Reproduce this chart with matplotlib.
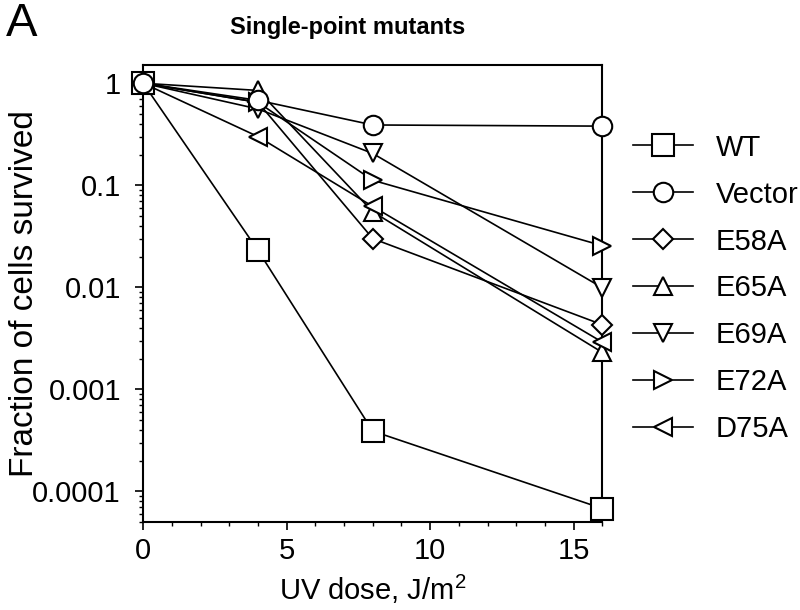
import numpy as np
import matplotlib
matplotlib.use('Agg')
import matplotlib.pyplot as plt
from matplotlib.ticker import FixedLocator, MultipleLocator, LogLocator, NullFormatter

plt.rcParams['font.family'] = ['Liberation Sans', 'DejaVu Sans']
plt.rcParams['mathtext.fontset'] = 'custom'
plt.rcParams['mathtext.rm'] = 'Liberation Sans'

dose = [0, 4, 8, 16]

wt = [1.0, 0.023, 0.00039, 0.000068]
vector = [1.0, 0.68, 0.39, 0.38]
e58a = [1.0, 0.65, 0.030, 0.0043]
e65a = [1.0, 0.85, 0.055, 0.0023]
e69a = [1.0, 0.56, 0.205, 0.0099]
e72a = [1.0, 0.65, 0.112, 0.0256]
d75a = [1.0, 0.30, 0.062, 0.0029]

names = ['WT', 'Vector', 'E58A', 'E65A', 'E69A', 'E72A', 'D75A']
series = [wt, vector, e58a, e65a, e69a, e72a, d75a]
markers = ['s', 'o', 'D', '^', 'v', '>', '<']
msizes = [16, 14, 10, 13, 13, 13, 13]
zorders = [4, 6, 3, 3, 3, 3, 3]

y_ticks = [1, 0.1, 0.01, 0.001, 0.0001]
y_tick_labels = ['1', '0.1', '0.01', '0.001', '0.0001']


def main():
    fig = plt.figure(figsize=(8, 6.1), dpi=100)
    ax = fig.add_axes([0.179, 0.144, 0.574, 0.749])

    for name, ys, m, ms, z in zip(names, series, markers, msizes, zorders):
        ax.plot(dose, ys, '-', color='black', marker=m, markersize=ms,
                markerfacecolor='white', markeredgecolor='black',
                markeredgewidth=1.5, linewidth=1.2, label=name,
                clip_on=False, zorder=z)

    ax.set_yscale('log')
    ax.set_xlim([0, 16])
    ax.set_ylim([5e-5, 1.5])

    ax.xaxis.set_major_locator(FixedLocator([0, 5, 10, 15]))
    ax.xaxis.set_minor_locator(MultipleLocator(1))
    ax.yaxis.set_major_locator(FixedLocator(y_ticks))
    ax.set_yticklabels(y_tick_labels)
    ax.yaxis.set_minor_locator(LogLocator(base=10, subs=np.arange(2, 10)))
    ax.yaxis.set_minor_formatter(NullFormatter())

    ax.tick_params(which='major', direction='out', length=6, width=1.2,
                   labelsize=21)
    ax.tick_params(axis='y', which='major', pad=10)
    ax.tick_params(axis='x', which='major', pad=5)
    ax.tick_params(which='minor', direction='out', length=3, width=1.0)
    for s in ax.spines.values():
        s.set_linewidth(1.5)

    ax.set_xlabel('UV dose, J/m$^2$', fontsize=21, labelpad=5)
    ax.set_ylabel('Fraction of cells survived', fontsize=24)
    ax.yaxis.set_label_coords(-0.224, 0.5)

    ax.legend(loc='upper left', bbox_to_anchor=(0.791, 0.781),
              bbox_transform=fig.transFigure, frameon=False, fontsize=21,
              handlelength=2.05, handletextpad=0.79, labelspacing=0.65,
              borderaxespad=0, borderpad=0)

    fig.text(0.434, 0.955, 'Single-point mutants', fontsize=17,
             fontweight='bold', ha='center', va='center')
    fig.text(0.008, 0.96, 'A', fontsize=34, ha='left', va='center')

    fig.savefig('out.png', dpi=100)


if __name__ == '__main__':
    main()
